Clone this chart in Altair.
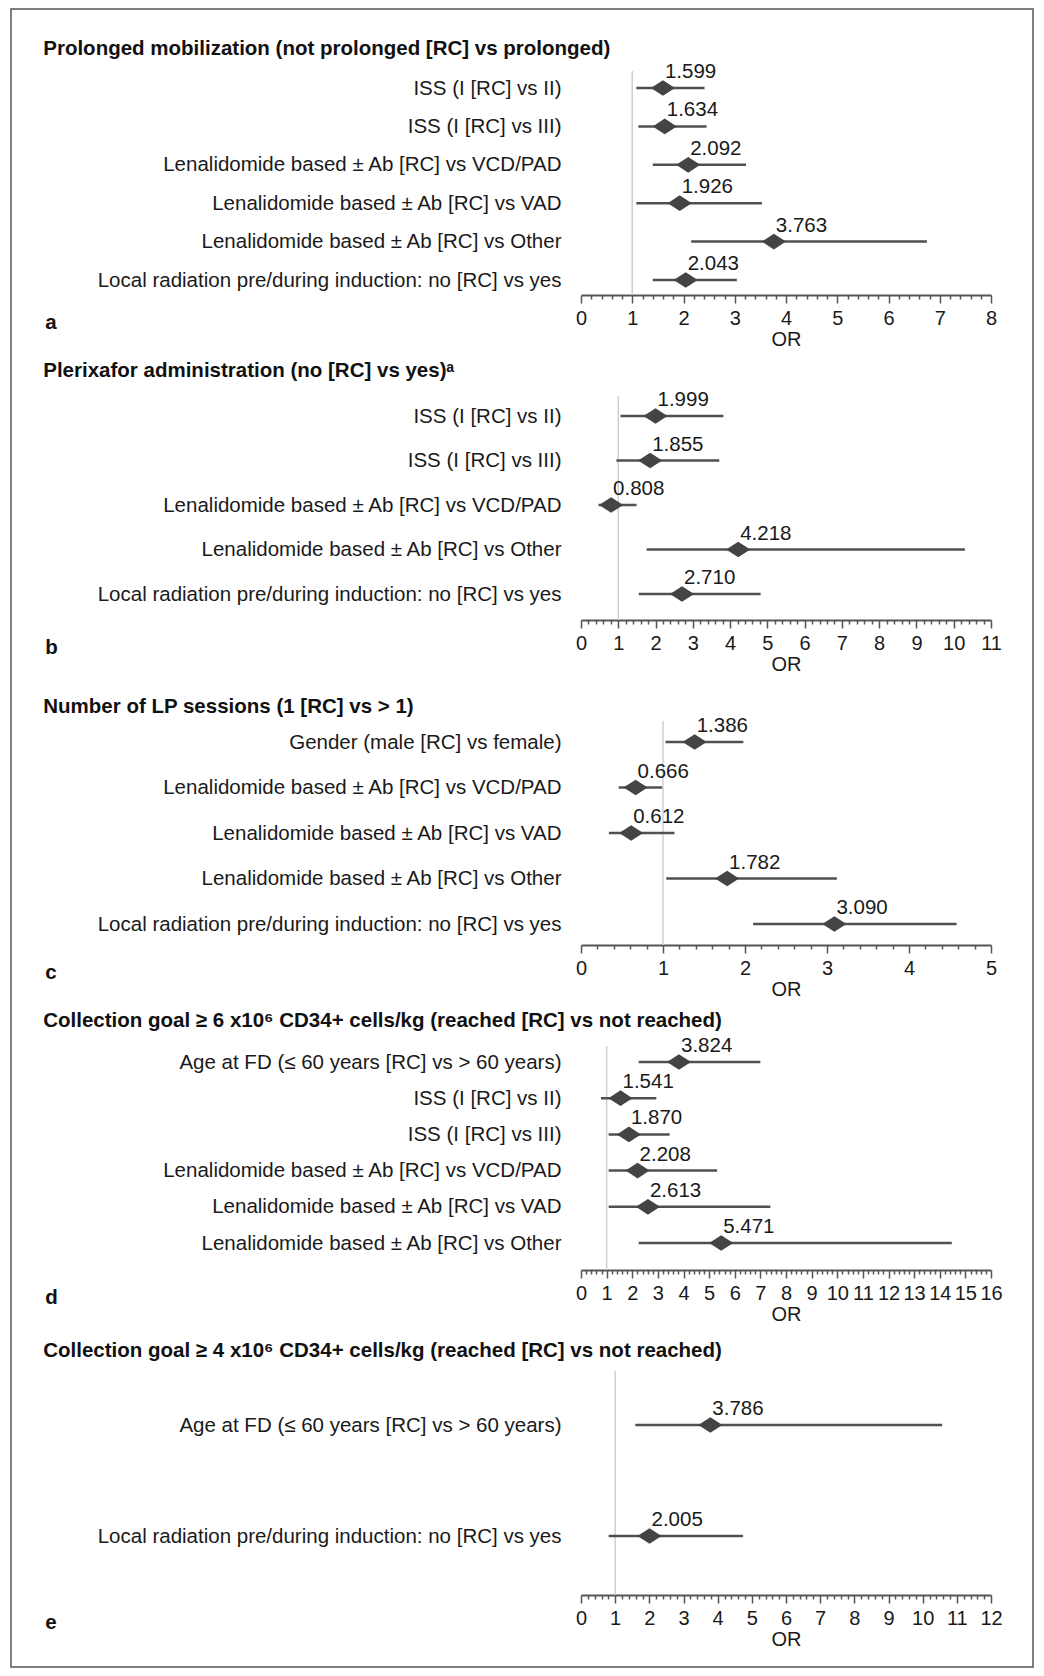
import altair as alt
import pandas as pd

FONT = "Liberation Sans"

# ---------------- data ----------------
a_title = "Prolonged mobilization (not prolonged [RC] vs prolonged)"
a_labels = ["ISS (I [RC] vs II)", "ISS (I [RC] vs III)",
            "Lenalidomide based ± Ab [RC] vs VCD/PAD",
            "Lenalidomide based ± Ab [RC] vs VAD",
            "Lenalidomide based ± Ab [RC] vs Other",
            "Local radiation pre/during induction: no [RC] vs yes"]
a_or = [1.599, 1.634, 2.092, 1.926, 3.763, 2.043]
a_lo = [1.08, 1.12, 1.40, 1.08, 2.15, 1.40]
a_hi = [2.41, 2.45, 3.22, 3.53, 6.75, 3.04]
a_xmax = 8

b_title = "Plerixafor administration (no [RC] vs yes)ᵃ"
b_labels = ["ISS (I [RC] vs II)", "ISS (I [RC] vs III)",
            "Lenalidomide based ± Ab [RC] vs VCD/PAD",
            "Lenalidomide based ± Ab [RC] vs Other",
            "Local radiation pre/during induction: no [RC] vs yes"]
b_or = [1.999, 1.855, 0.808, 4.218, 2.710]
b_lo = [1.06, 0.95, 0.47, 1.76, 1.55]
b_hi = [3.82, 3.71, 1.49, 10.30, 4.82]
b_xmax = 11

c_title = "Number of LP sessions (1 [RC] vs > 1)"
c_labels = ["Gender (male [RC] vs female)",
            "Lenalidomide based ± Ab [RC] vs VCD/PAD",
            "Lenalidomide based ± Ab [RC] vs VAD",
            "Lenalidomide based ± Ab [RC] vs Other",
            "Local radiation pre/during induction: no [RC] vs yes"]
c_or = [1.386, 0.666, 0.612, 1.782, 3.090]
c_lo = [1.03, 0.46, 0.34, 1.04, 2.10]
c_hi = [1.98, 0.99, 1.14, 3.12, 4.58]
c_xmax = 5

d_title = "Collection goal ≥ 6 x10⁶ CD34+ cells/kg (reached [RC] vs not reached)"
d_labels = ["Age at FD (≤ 60 years [RC] vs > 60 years)",
            "ISS (I [RC] vs II)", "ISS (I [RC] vs III)",
            "Lenalidomide based ± Ab [RC] vs VCD/PAD",
            "Lenalidomide based ± Ab [RC] vs VAD",
            "Lenalidomide based ± Ab [RC] vs Other"]
d_or = [3.824, 1.541, 1.870, 2.208, 2.613, 5.471]
d_lo = [2.25, 0.78, 1.08, 1.08, 1.08, 2.25]
d_hi = [7.00, 2.94, 3.46, 5.31, 7.39, 14.47]
d_xmax = 16

e_title = "Collection goal ≥ 4 x10⁶ CD34+ cells/kg (reached [RC] vs not reached)"
e_labels = ["Age at FD (≤ 60 years [RC] vs > 60 years)",
            "Local radiation pre/during induction: no [RC] vs yes"]
e_or = [3.786, 2.005]
e_lo = [1.59, 0.81]
e_hi = [10.57, 4.74]
e_xmax = 12

letters = ["a", "b", "c", "d", "e"]

# ---------------- layout / style ----------------
W = 410
H = 224
SPACING = 101
X_TITLE = -537.75
X_LETTER = -535.75
DIAMOND = "M-1,0L0,-0.65L1,0L0,0.65Z"
INT_TEST = "abs(datum.value - round(datum.value)) < 0.001"


def panel(letter, title, labels, ors, los, his, xmax, row_range, title_y, frame=False):
    df = pd.DataFrame({"label": labels, "or": ors, "lo": los, "hi": his})
    ticks = [round(i * 0.2, 1) for i in range(int(xmax * 5) + 1)]
    xscale = alt.Scale(domain=[0, xmax], nice=False, zero=True)
    xaxis = alt.Axis(
        values=ticks, title="OR", grid=False,
        titleFont=FONT, titleFontSize=20, titleFontWeight="normal",
        titleColor="#1a1a1a", titlePadding=1,
        labelFont=FONT, labelFontSize=20, labelColor="#1a1a1a",
        labelPadding=5, labelFlush=False, labelOverlap=False,
        labelExpr=INT_TEST + " ? format(datum.value, 'd') : ''",
        domainColor="#555555", domainWidth=2,
        tickColor="#555555", tickWidth=1.5,
        tickSize={"condition": {"test": INT_TEST, "value": 8}, "value": 4},
    )
    yscale = alt.Scale(type="point", range=row_range, padding=0)
    yaxis = alt.Axis(title=None, domain=False, ticks=False, grid=False,
                     labelFont=FONT, labelFontSize=20.5, labelColor="#1a1a1a",
                     labelPadding=20, labelLimit=800)
    y_enc = alt.Y("label:N", sort=labels, scale=yscale, axis=yaxis)

    ref = alt.Chart(pd.DataFrame({"ref": [1]})).mark_rule(
        color="#cfcfcf", strokeWidth=1.5
    ).encode(x=alt.X("ref:Q", scale=xscale, axis=xaxis))

    ci = alt.Chart(df).mark_rule(color="#505050", strokeWidth=2.5).encode(
        x=alt.X("lo:Q", scale=xscale, axis=xaxis), x2="hi:Q", y=y_enc)

    pts = alt.Chart(df).mark_point(
        shape=DIAMOND, filled=True, size=580, color="#444444", opacity=1
    ).encode(x=alt.X("or:Q", scale=xscale, axis=xaxis), y=y_enc)

    txt = alt.Chart(df).mark_text(
        align="left", baseline="alphabetic", dx=2, dy=-10,
        font=FONT, fontSize=20.5, color="#1a1a1a"
    ).encode(x=alt.X("or:Q", scale=xscale, axis=xaxis), y=y_enc,
             text=alt.Text("or:Q", format=".3f"))

    ttl = alt.Chart(pd.DataFrame({"t": [title]})).mark_text(
        align="left", baseline="middle", font=FONT, fontSize=20.5,
        fontWeight="bold", color="#111111"
    ).encode(text="t:N", x=alt.value(X_TITLE), y=alt.value(title_y))

    let = alt.Chart(pd.DataFrame({"t": [letter]})).mark_text(
        align="left", baseline="alphabetic", font=FONT, fontSize=20.5,
        fontWeight="bold", color="#111111"
    ).encode(text="t:N", x=alt.value(X_LETTER), y=alt.value(H + 34))

    layers = [ref, ci, pts, txt, ttl, let]
    if frame:
        box = alt.Chart(pd.DataFrame({"f": [0]})).mark_rect(
            fillOpacity=0, stroke="#555555", strokeWidth=1.5
        ).encode(x=alt.value(-570), x2=alt.value(452),
                 y=alt.value(-62), y2=alt.value(1596))
        layers = [box] + layers
    return alt.layer(*layers).properties(width=W, height=H)


pa = panel(letters[0], a_title, a_labels, a_or, a_lo, a_hi, a_xmax, [17, 209], -21.75, frame=True)
pb = panel(letters[1], b_title, b_labels, b_or, b_lo, b_hi, b_xmax, [20, 198], -24.75)
pc = panel(letters[2], c_title, c_labels, c_or, c_lo, c_hi, c_xmax, [21, 203], -14)
pd_ = panel(letters[3], d_title, d_labels, d_or, d_lo, d_hi, d_xmax, [16, 197], -25)
pe = panel(letters[4], e_title, e_labels, e_or, e_lo, e_hi, e_xmax, [54, 165], -20)

chart = alt.vconcat(pa, pb, pc, pd_, pe, spacing=SPACING, bounds="flush").configure_view(
    stroke=None
).properties(padding={"left": 2, "top": 0, "right": 0, "bottom": 0}, background="white")

chart.save("out.html", embed_options={"renderer": "svg", "actions": False})
